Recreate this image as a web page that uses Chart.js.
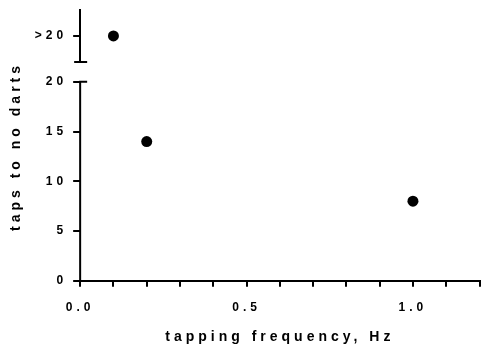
<!DOCTYPE html>
<html>
<head>
<meta charset="utf-8">
<script src="https://cdn.jsdelivr.net/npm/chart.js@4"></script>
<style>
  html, body { margin: 0; padding: 0; background: #fff; }
  canvas { display: block; }
</style>
</head>
<body>
<canvas id="tapChart" width="485" height="347"></canvas>
<script>
const frequencies = [0.1, 0.2, 1.0];
const taps = ['>20', 14, 8];
const upperLabels = ['>20'];
const xLabelTicks = [0, 0.5, 1.0];

const tickFont = { family: 'Liberation Sans, Arial, sans-serif', weight: 'bold', size: 12 };
const titleFont = { family: 'Liberation Sans, Arial, sans-serif', weight: 'bold', size: 14 };

// values above the break go on the small top axis
const measured = [];
const censored = [];
frequencies.forEach(function (f, i) {
    if (typeof taps[i] === 'string') censored.push({ x: f, y: taps[i] });
    else measured.push({ x: f, y: taps[i] });
});

const spacing = {
    id: 'spacing',
    beforeUpdate(chart) { chart.ctx.letterSpacing = '4px'; },
    beforeDraw(chart) { chart.ctx.letterSpacing = '4px'; }
};

// broken y axis: line up to 20, caps on both sides of the gap
const brokenAxis = {
    id: 'brokenAxis',
    afterDraw(chart) {
        const ctx = chart.ctx;
        const y = chart.scales.y;
        const top = chart.scales.yTop;
        const x0 = chart.chartArea.left;
        const y20 = y.getPixelForValue(20);
        ctx.save();
        ctx.strokeStyle = '#000';
        ctx.lineWidth = 2;
        ctx.beginPath();
        ctx.moveTo(x0, y.getPixelForValue(0));
        ctx.lineTo(x0, y20);
        ctx.moveTo(x0 - 1, y20);
        ctx.lineTo(x0 + 7, y20);
        ctx.moveTo(x0 - 6, top.bottom);
        ctx.lineTo(x0 + 7, top.bottom);
        ctx.stroke();
        ctx.restore();
    }
};

function noTopPadding(scale) { scale.paddingTop = 0; }

document.addEventListener('DOMContentLoaded', function () {
    new Chart(document.getElementById('tapChart').getContext('2d'), {
        type: 'scatter',
        data: {
            datasets: [{
                data: measured,
                yAxisID: 'y',
                backgroundColor: '#000',
                borderWidth: 0,
                pointRadius: 5.5
            }, {
                data: censored,
                yAxisID: 'yTop',
                backgroundColor: '#000',
                borderWidth: 0,
                pointRadius: 5.5
            }]
        },
        options: {
            responsive: false,
            animation: false,
            layout: { padding: { top: 10, left: 4, right: -6.5, bottom: 0 } },
            plugins: {
                legend: { display: false },
                tooltip: { enabled: false }
            },
            scales: {
                x: {
                    type: 'linear',
                    min: 0,
                    max: 1.2,
                    afterFit: function (scale) { scale.paddingRight = -6.5; },
                    ticks: {
                        stepSize: 0.1,
                        autoSkip: false,
                        maxRotation: 0,
                        padding: 14,
                        color: '#000',
                        font: tickFont,
                        callback: function (v) {
                            return xLabelTicks.some(t => Math.abs(t - v) < 1e-6) ? v.toFixed(1) : '';
                        }
                    },
                    grid: { drawOnChartArea: false, tickLength: 6, lineWidth: 2, color: '#000' },
                    border: { display: true, width: 2, color: '#000' },
                    title: {
                        display: true,
                        text: 'tapping frequency, Hz',
                        color: '#000',
                        font: titleFont,
                        padding: { top: 0, bottom: 1 }
                    }
                },
                y: {
                    type: 'linear',
                    position: 'left',
                    stack: 'left',
                    stackWeight: 219,
                    weight: 0,
                    min: 0,
                    max: 22,
                    afterFit: noTopPadding,
                    ticks: { stepSize: 5, includeBounds: false, padding: 6, color: '#000', font: tickFont },
                    grid: { drawOnChartArea: false, tickLength: 7, lineWidth: 2, color: '#000' },
                    border: { display: false },
                    title: {
                        display: true,
                        align: 'end',
                        text: 'taps to no darts',
                        color: '#000',
                        font: titleFont,
                        padding: { top: 4, bottom: 15 }
                    }
                },
                yTop: {
                    type: 'category',
                    labels: upperLabels,
                    position: 'left',
                    stack: 'left',
                    stackWeight: 52,
                    weight: 1,
                    offset: true,
                    afterFit: noTopPadding,
                    ticks: { padding: 6, color: '#000', font: tickFont },
                    grid: { offset: false, drawOnChartArea: false, tickLength: 7, lineWidth: 2, color: '#000' },
                    border: { display: true, width: 2, color: '#000' }
                }
            }
        },
        plugins: [spacing, brokenAxis]
    });
});
</script>
</body>
</html>
